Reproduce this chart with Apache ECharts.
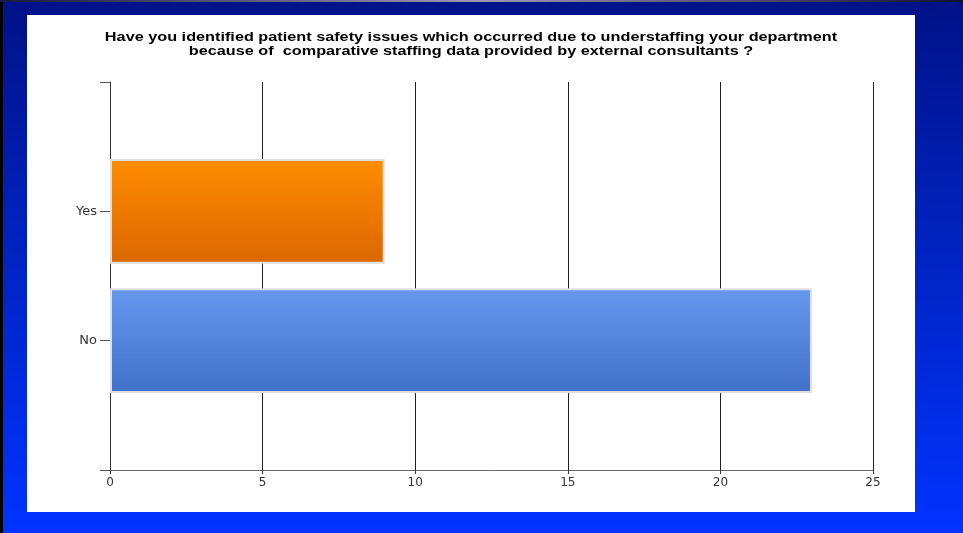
<!DOCTYPE html>
<html>
<head>
<meta charset="utf-8">
<script src="https://cdn.jsdelivr.net/npm/echarts@6/dist/echarts.min.js"></script>
<style>
  html, body { margin: 0; padding: 0; background: #0a1a9a; }
  #chart { width: 963px; height: 533px; }
</style>
</head>
<body>
<div id="chart"></div>
<script>
// Survey answers and counts
const categories = ['Yes', 'No'];
const counts = [9, 23];
const xTicks = [0, 5, 10, 15, 20, 25];
const titleLines = [
  'Have you identified patient safety issues which occurred due to understaffing your department',
  'because of  comparative staffing data provided by external consultants ?'
];

// Gradient fills for each answer's bar
const barFills = [
  ['#ff8d00', '#da6700'],
  ['#6698ee', '#4170c9']
];

// Category axis padded with empty slots so the answers sit at 1/3 and 2/3 of the height
const axisCategories = [''].concat(categories, ['']);
const barData = [null].concat(counts.map((v, i) => ({
  value: v,
  itemStyle: {
    color: {
      type: 'linear', x: 0, y: 0, x2: 0, y2: 1,
      colorStops: [
        { offset: 0, color: barFills[i][0] },
        { offset: 1, color: barFills[i][1] }
      ]
    }
  }
})), [null]);

const chart = echarts.init(document.getElementById('chart'));
chart.setOption({
  animation: false,
  backgroundColor: {
    type: 'linear', x: 0, y: 0, x2: 0, y2: 1,
    colorStops: [
      { offset: 0, color: '#001288' },
      { offset: 0.5, color: '#0024c4' },
      { offset: 1, color: '#0033ff' }
    ]
  },
  graphic: [
    { type: 'rect', z: -10, shape: { x: 0, y: 0, width: 3, height: 533 }, style: { fill: '#000000' } },
    {
      type: 'rect', z: -10, shape: { x: 0, y: 0, width: 963, height: 2 },
      style: {
        fill: {
          type: 'linear', x: 0, y: 0, x2: 1, y2: 0,
          colorStops: [
            { offset: 0, color: '#1a1a40' },
            { offset: 0.5, color: '#9a9ab0' },
            { offset: 1, color: '#101030' }
          ]
        }
      }
    },
    { type: 'rect', z: -10, shape: { x: 27, y: 15, width: 888, height: 497 }, style: { fill: '#ffffff' } },
    // Two-line heading, widened to fill the panel
    {
      type: 'text',
      x: 471,
      y: 30,
      scaleX: 1.25,
      z: 10,
      style: {
        text: titleLines.join('\n'),
        x: 0,
        y: 0,
        align: 'center',
        verticalAlign: 'top',
        font: 'bold 13px "Liberation Sans", Arial, sans-serif',
        lineHeight: 14,
        fill: '#000000'
      }
    }
  ],
  grid: { left: 110, right: 90, top: 82, bottom: 63, containLabel: false },
  xAxis: {
    type: 'value',
    min: xTicks[0],
    max: xTicks[xTicks.length - 1],
    interval: xTicks[1] - xTicks[0],
    axisLine: { show: true, lineStyle: { color: '#666666', width: 1 } },
    axisTick: { show: true, length: 4, lineStyle: { color: '#333333' } },
    axisLabel: {
      margin: 7,
      fontFamily: 'DejaVu Sans, Verdana, sans-serif',
      fontSize: 12,
      color: '#333333'
    },
    splitLine: { show: true, lineStyle: { color: '#222222', width: 1 } }
  },
  yAxis: {
    type: 'category',
    data: axisCategories,
    inverse: true,
    boundaryGap: false,
    axisLine: { show: true, lineStyle: { color: '#333333', width: 1 } },
    axisTick: { show: true, length: 10, interval: 0, lineStyle: { color: '#555555' } },
    axisLabel: {
      interval: 0,
      margin: 13,
      fontFamily: 'DejaVu Sans, Verdana, sans-serif',
      fontSize: 13,
      color: '#333333'
    },
    splitLine: { show: false }
  },
  series: [{
    type: 'bar',
    data: barData,
    barWidth: '81%',
    itemStyle: { borderColor: '#dedede', borderWidth: 2 }
  }]
});
</script>
</body>
</html>
